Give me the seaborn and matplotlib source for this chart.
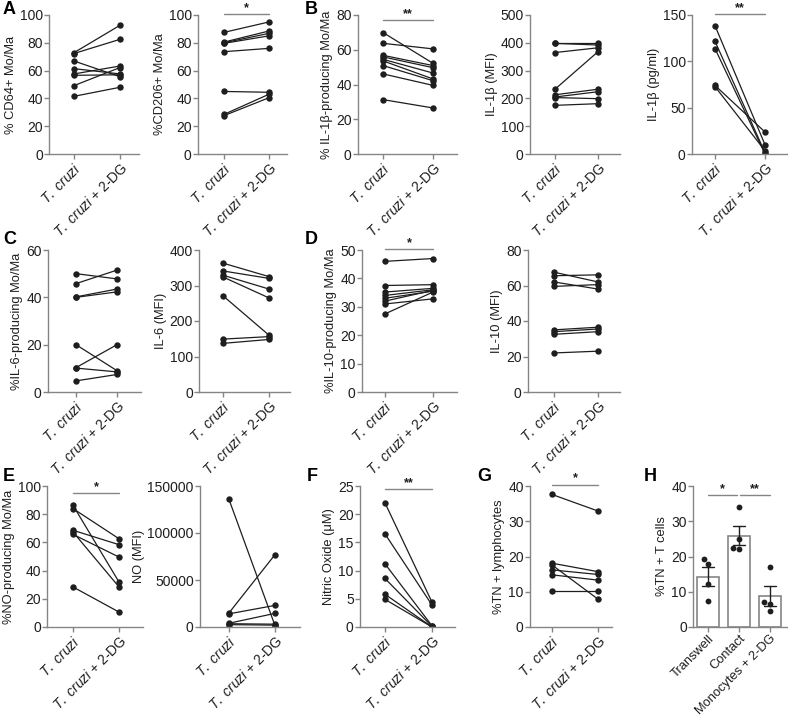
import numpy as np
import pandas as pd
import matplotlib
matplotlib.use("Agg")
import matplotlib.pyplot as plt
import seaborn as sns

sns.set_theme(style="ticks")
plt.rcParams['font.family'] = ['Liberation Sans', 'DejaVu Sans']
plt.rcParams['mathtext.fontset'] = 'custom'
plt.rcParams['mathtext.it'] = 'Liberation Sans:italic'
plt.rcParams['mathtext.rm'] = 'Liberation Sans'

# ----------------------------------------------------------
# data (T. cruzi vs T. cruzi + 2-DG)
# ----------------------------------------------------------
conditions = [r"$\it{T.\ cruzi}$", r"$\it{T.\ cruzi}$ + 2-DG"]

cd64_tc = [72.9, 72.3, 66.9, 61.4, 57.6, 56.6, 49.2, 41.5]
cd64_dg = [92.6, 82.5, 55.6, 57.6, 63.3, 57.0, 62.2, 48.0]

cd206_tc = [87.5, 80.5, 80.0, 79.6, 73.6, 45.0, 28.5, 27.6]
cd206_dg = [95.0, 88.5, 86.8, 85.0, 76.0, 44.4, 43.0, 40.5]

il1b_pct_tc = [69.9, 63.7, 56.8, 55.9, 54.5, 53.6, 50.9, 46.1, 31.3]
il1b_pct_dg = [52.2, 60.5, 50.9, 49.7, 46.6, 43.2, 42.2, 39.5, 26.5]

il1b_mfi_tc = [398, 398, 365, 233, 213, 205, 203, 175]
il1b_mfi_dg = [392, 398, 382, 368, 233, 224, 199, 181]

il1b_pg_tc = [138.5, 121.6, 113.7, 74.0, 72.7]
il1b_pg_dg = [10.0, 1.4, 0.0, 23.7, 3.6]

il6_pct_tc = [50.0, 45.8, 40.2, 40.0, 20.0, 10.3, 10.1, 4.7]
il6_pct_dg = [47.8, 51.5, 43.5, 42.3, 9.0, 20.0, 8.5, 7.4]

il6_mfi_tc = [363, 341, 329, 324, 271, 149, 137]
il6_mfi_dg = [325, 320, 290, 265, 160, 156, 148]

il10_pct_tc = [46.0, 37.5, 35.2, 34.0, 33.0, 32.0, 31.0, 27.5]
il10_pct_dg = [47.0, 37.8, 36.5, 36.0, 35.5, 35.8, 32.8, 35.2]

il10_mfi_tc = [67.5, 65.5, 62.0, 59.5, 35.0, 34.0, 32.5, 22.0]
il10_mfi_dg = [62.0, 66.0, 58.0, 60.5, 36.5, 35.5, 34.0, 23.0]

no_pct_tc = [86.3, 84.0, 68.6, 67.4, 65.7, 28.4]
no_pct_dg = [31.9, 62.6, 58.4, 28.4, 49.6, 10.6]

no_mfi_tc = [135700, 15000, 14000, 4000, 3500, 2500]
no_mfi_dg = [1500, 77000, 23000, 14500, 3000, 2000]

nitric_tc = [22.0, 16.5, 11.2, 8.6, 5.8, 4.9]
nitric_dg = [4.4, 3.9, 0.2, 0.1, 0.0, 0.0]

tn_lymph_tc = [37.6, 18.1, 17.6, 16.2, 14.8, 10.1]
tn_lymph_dg = [32.9, 15.7, 7.9, 14.9, 13.3, 10.1]

# panel H
h_groups = ["Transwell", "Contact", "Monocytes + 2-DG"]
h_transwell = [18.0, 19.2, 12.3, 7.5]
h_contact = [34.0, 22.5, 22.2, 25.0]
h_mono_dg = [16.9, 7.0, 6.6, 4.6]

# ----------------------------------------------------------
# figure + helpers
# ----------------------------------------------------------
W, H = 788, 716
fig = plt.figure(figsize=(W / 100, H / 100), dpi=100)

GRAY = "#858585"
INK = "#1e1e1e"
FS_TICK = 10
FS_X = 9.8
FS_LAB = 9.3


def make_ax(left, right, top, bottom):
    return fig.add_axes([left / W, 1 - bottom / H, (right - left) / W, (bottom - top) / H])


def style(ax, ylim, step, ylabel):
    sns.despine(ax=ax)
    for s in ["left", "bottom"]:
        ax.spines[s].set_color(GRAY)
        ax.spines[s].set_linewidth(1.0)
    ax.set_ylim(*ylim)
    ax.set_yticks(np.arange(ylim[0], ylim[1] + step / 2, step))
    ax.tick_params(axis="both", colors=GRAY, length=3.5, width=1, labelsize=FS_TICK,
                   labelcolor=INK, pad=1)
    ax.set_ylabel(ylabel, fontsize=FS_LAB, color=INK, labelpad=2)
    ax.set_xlabel("")
    ax.yaxis.set_major_formatter(matplotlib.ticker.FuncFormatter(lambda v, p: f"{int(v)}" if v == int(v) else f"{v:g}"))


def rot_labels(ax, labels, fs=FS_X):
    ax.set_xticklabels(labels, rotation=45, ha="right", rotation_mode="anchor", fontsize=fs)


def sig(ax, x0, x1, y, stars):
    ax.plot([x0, x1], [y, y], color=GRAY, lw=1, clip_on=False)
    ax.text((x0 + x1) / 2, y, stars, ha="center", va="bottom", fontsize=9,
            color=INK, fontweight="bold")


def paired(box, ticks, tc, dg, ylim, step, ylabel, stars=None, star_y=None):
    left, right, top, bottom = box
    ax = make_ax(left, right, top, bottom)
    df = pd.DataFrame({
        "pair": list(range(len(tc))) + list(range(len(dg))),
        "cond": [0] * len(tc) + [1] * len(dg),
        "value": tc + dg,
    })
    sns.lineplot(data=df, x="cond", y="value", units="pair", estimator=None,
                 color=INK, lw=0.9, marker="o", markersize=4.6,
                 markeredgewidth=0, ax=ax, legend=False)
    unit = ticks[1] - ticks[0]
    ax.set_xlim((left - ticks[0]) / unit, (right - ticks[0]) / unit)
    ax.set_xticks([0, 1])
    rot_labels(ax, conditions)
    style(ax, ylim, step, ylabel)
    if stars:
        sig(ax, 0, 1, star_y, stars)
    return ax


def panel_letter(x, y, s):
    fig.text(x / W, 1 - y / H, s, fontsize=13, fontweight="bold", color="black",
             va="top", ha="left")


# ---------------- row 1 ----------------
T1, B1 = 15, 154
paired((49, 139, T1, B1), (74, 120), cd64_tc, cd64_dg, (0, 100), 20, "% CD64+ Mo/Ma")
paired((198, 287, T1, B1), (224, 269), cd206_tc, cd206_dg, (0, 100), 20,
       "%CD206+ Mo/Ma", "*", 100.5)
paired((358, 457, T1, B1), (383, 433), il1b_pct_tc, il1b_pct_dg, (0, 80), 20,
       "% IL-1β-producing Mo/Ma", "**", 77)
paired((530, 620, T1, B1), (555, 598), il1b_mfi_tc, il1b_mfi_dg, (0, 500), 100,
       "IL-1β (MFI)")
paired((692, 787, T1, B1), (715, 765), il1b_pg_tc, il1b_pg_dg, (0, 150), 50,
       "IL-1β (pg/ml)", "**", 151)

# ---------------- row 2 ----------------
T2, B2 = 250, 392
paired((48, 141, T2, B2), (76, 117), il6_pct_tc, il6_pct_dg, (0, 60), 20,
       "%IL-6-producing Mo/Ma")
paired((199, 290, T2, B2), (223, 269), il6_mfi_tc, il6_mfi_dg, (0, 400), 100,
       "IL-6 (MFI)")
paired((362, 457, T2, B2), (385, 433), il10_pct_tc, il10_pct_dg, (0, 50), 10,
       "%IL-10-producing Mo/Ma", "*", 50.3)
paired((528, 620, T2, B2), (554, 598), il10_mfi_tc, il10_mfi_dg, (0, 80), 20,
       "IL-10 (MFI)")

# ---------------- row 3 ----------------
T3, B3 = 486, 627
paired((47, 143, T3, B3), (73, 119), no_pct_tc, no_pct_dg, (0, 100), 20,
       "%NO-producing Mo/Ma", "*", 95)
paired((200, 300, T3, B3), (229, 275), no_mfi_tc, no_mfi_dg, (0, 150000), 50000,
       "NO (MFI)")
paired((360, 455, T3, B3), (385, 432), nitric_tc, nitric_dg, (0, 25), 5,
       "Nitric Oxide (μM)", "**", 24.4)
paired((530, 612, T3, B3), (552, 598), tn_lymph_tc, tn_lymph_dg, (0, 40), 10,
       "%TN + lymphocytes", "*", 40.4)

# panel H: bars with SEM and individual points
axh = make_ax(693, 787, T3, B3)
h_df = pd.DataFrame({
    "group": [h_groups[0]] * len(h_transwell) + [h_groups[1]] * len(h_contact)
             + [h_groups[2]] * len(h_mono_dg),
    "value": h_transwell + h_contact + h_mono_dg,
})
sns.barplot(data=h_df, x="group", y="value", order=h_groups, errorbar="se",
            capsize=0.4, width=0.7, color="white", edgecolor=GRAY, linewidth=1.2,
            err_kws={"color": INK, "linewidth": 1.0}, ax=axh)
sns.swarmplot(data=h_df, x="group", y="value", order=h_groups, color=INK,
              size=4.2, ax=axh)
axh.set_xlim(-0.48, 2.55)
style(axh, (0, 40), 10, "%TN + T cells")
rot_labels(axh, h_groups, fs=9.3)
axh.tick_params(axis="x", pad=0.5)
sig(axh, 0, 0.95, 37.5, "*")
sig(axh, 1.05, 2, 37.5, "**")

# panel letters
panel_letter(3, 1, "A")
panel_letter(305, 1, "B")
panel_letter(3, 231, "C")
panel_letter(305, 231, "D")
panel_letter(3, 468, "E")
panel_letter(307, 468, "F")
panel_letter(477, 468, "G")
panel_letter(644, 468, "H")

fig.savefig("out.png", dpi=100)
